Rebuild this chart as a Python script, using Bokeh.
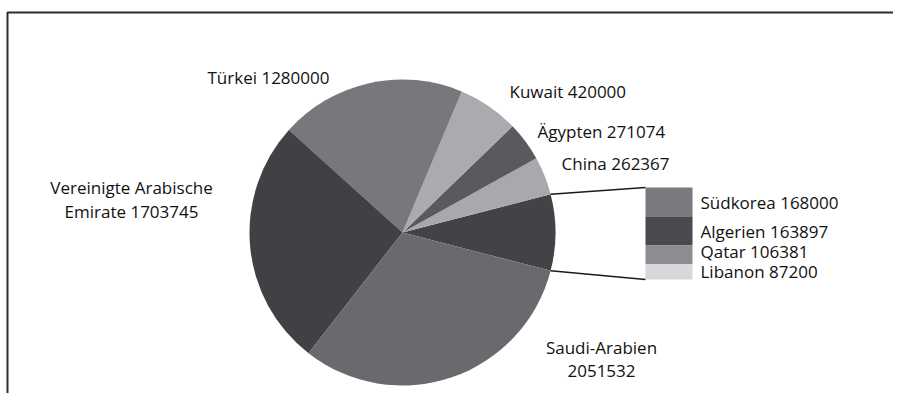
import numpy as np
from bokeh.plotting import figure
from bokeh.models import Range1d, ColumnDataSource
from bokeh.core.properties import value
from bokeh.embed import file_html
from bokeh.resources import INLINE

# ---- data ----
pie_labels = ["China", "Ägypten", "Kuwait", "Türkei", "Vereinigte Arabische Emirate", "Saudi-Arabien"]
pie_values = [262367, 271074, 420000, 1280000, 1703745, 2051532]
pie_colors = ["#a9a9ad", "#5a5a5e", "#ababaf", "#78787c", "#414145", "#6a6a6e"]
other_color = "#434347"

bar_labels = ["Südkorea", "Algerien", "Qatar", "Libanon"]
bar_values = [168000, 163897, 106381, 87200]
bar_colors = ["#7b7b7f", "#4a4a4e", "#8d8d91", "#d8d8dc"]

W, H = 893, 393
FONT = "Open Sans"
FS = "17px"
TC = "#111111"

def Y(sy):
    # layout helper: pixel row from top -> data y
    return H - sy

p = figure(width=W, height=H, output_backend="svg", toolbar_location=None,
           x_range=Range1d(0, W), y_range=Range1d(0, H), min_border=0)
p.axis.visible = False
p.grid.visible = False
p.outline_line_color = None
p.background_fill_color = "white"

# chart border (left and top edges; the rest runs off the picture)
p.line(x=[7, 7, W], y=[-5, Y(12), Y(12)], line_color="#2b2b2b", line_width=2)

# ---- pie ----
cx, cy, r = 402, Y(232), 153
other_total = sum(bar_values)
total = sum(pie_values) + other_total
other_ang = other_total / total * 2 * np.pi
start = other_ang / 2
starts, ends = [], []
for v in pie_values:
    a = v / total * 2 * np.pi
    starts.append(start)
    ends.append(start + a)
    start += a

p.wedge(x=cx, y=cy, radius=r, start_angle=-other_ang / 2, end_angle=other_ang / 2,
        fill_color=other_color, line_color=None)
src = ColumnDataSource(dict(s=starts, e=ends, c=pie_colors))
p.wedge(x=cx, y=cy, radius=r, start_angle="s", end_angle="e", fill_color="c",
        line_color=None, source=src)

# ---- bar of pie ----
bx0, bx1, btop, bh = 645, 692, Y(187), 92
scale = bh / other_total
cum = np.cumsum([0] + bar_values)
tops = [btop - cum[i] * scale for i in range(len(bar_values))]
bots = [btop - cum[i + 1] * scale for i in range(len(bar_values))]
p.quad(left=bx0, right=bx1, top=tops, bottom=bots, fill_color=bar_colors, line_color=None)

# connectors
ux, uy = cx + r * np.cos(other_ang / 2), cy + r * np.sin(other_ang / 2)
lx, ly = cx + r * np.cos(-other_ang / 2), cy + r * np.sin(-other_ang / 2)
p.segment(x0=[ux, lx], y0=[uy, ly], x1=[bx0, bx0], y1=[btop, btop - bh],
          line_color="#1a1a1a", line_width=1.5)

# bar labels
mids = [(t + b) / 2 for t, b in zip(tops, bots)]
mids[2] += 3
p.text(x=[bx1 + 8] * 4, y=mids,
       text=[f"{l} {v}" for l, v in zip(bar_labels, bar_values)],
       text_font=value(FONT), text_font_size=FS, text_color=TC,
       text_align="left", text_baseline="middle")

# pie labels (left aligned)
p.text(x=[207, 509, 537, 561], y=[Y(77), Y(91), Y(131), Y(163)],
       text=[f"Türkei {pie_values[3]}", f"Kuwait {pie_values[2]}",
             f"Ägypten  {pie_values[1]}", f"China {pie_values[0]}"],
       text_font=value(FONT), text_font_size=FS, text_color=TC,
       text_align="left", text_baseline="middle")
# centered labels
p.text(x=[131, 131, 601, 601], y=[Y(187), Y(211), Y(347), Y(370)],
       text=["Vereinigte Arabische", f"Emirate {pie_values[4]}",
             "Saudi-Arabien", f"{pie_values[5]}"],
       text_font=value(FONT), text_font_size=FS, text_color=TC,
       text_align="center", text_baseline="middle")

open("out.html", "w").write(file_html(p, INLINE))
